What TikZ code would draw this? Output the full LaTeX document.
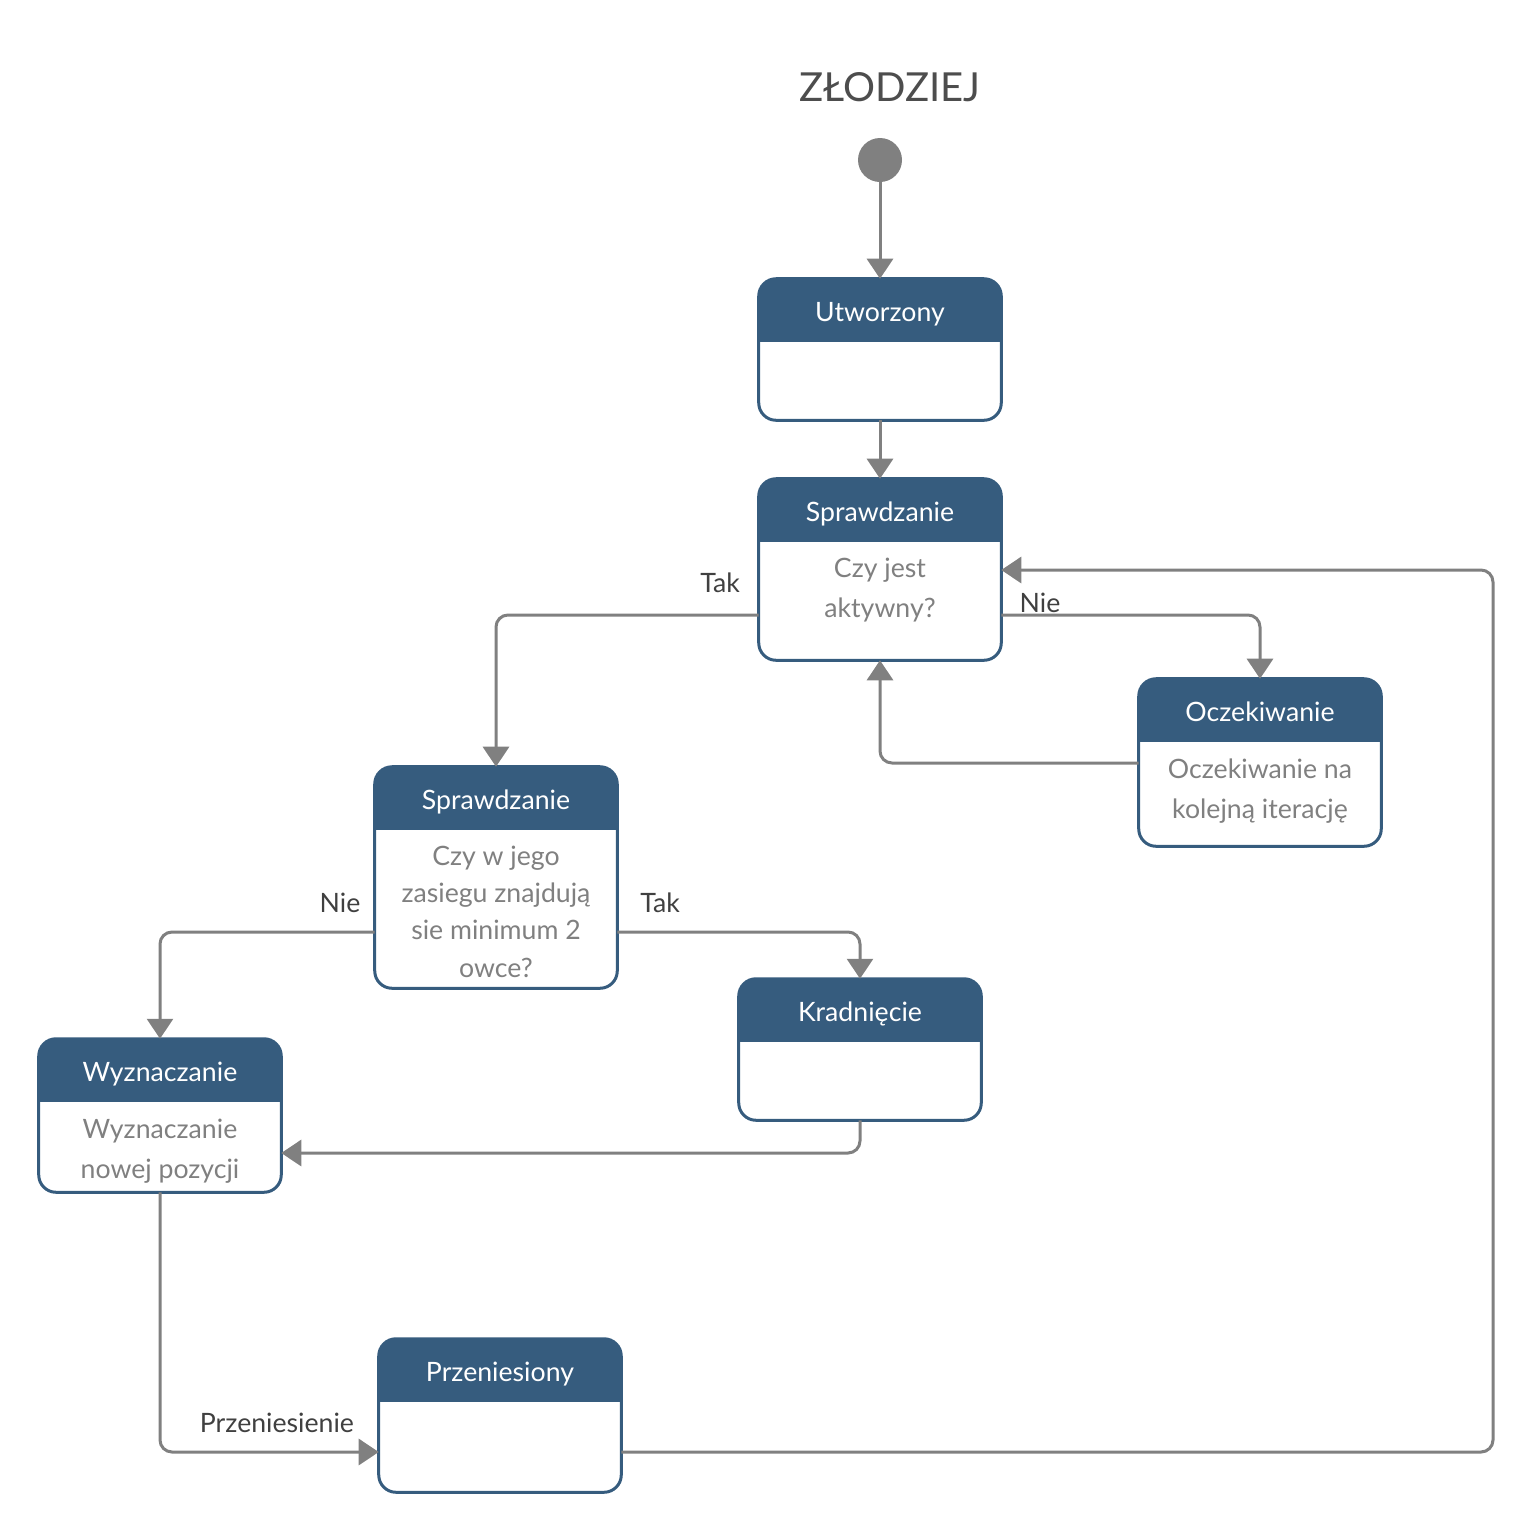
\documentclass[tikz,border=0pt]{standalone}
\usepackage{fontspec}
\setmainfont{Lato}
\usetikzlibrary{arrows.meta,fit,calc}
\definecolor{hdr}{RGB}{54,92,126}
\definecolor{conn}{RGB}{128,128,128}
\definecolor{lbl}{RGB}{64,64,64}
\definecolor{bodytxt}{RGB}{128,128,128}
\definecolor{ttlc}{RGB}{77,77,77}
\tikzset{
 wire/.style={draw=conn, line width=2.25pt, rounded corners=9pt, -{Triangle[width=19.5pt,length=15pt]}},
 hdrtext/.style={text=white, font=\fontsize{20}{24}\selectfont, anchor=base, inner sep=0pt},
 bodytext/.style={text=bodytxt, align=center, anchor=base, inner sep=0pt},
 lbltext/.style={text=lbl, font=\fontsize{20}{24}\selectfont, anchor=base, inner sep=0pt},
}
\newcommand\stbox[7]{%
 \node[fit={(#2,#3) (#4,#5)}, inner sep=0pt] (#1) {};
 \begin{scope}
 \clip[rounded corners=13pt] (#1.north west) rectangle (#1.south east);
 \fill[hdr] (#1.north west) rectangle (#1.east |- 0,#6);
 \end{scope}
 \draw[hdr, line width=2.25pt, rounded corners=13pt] (#1.north west) rectangle (#1.south east);
 \node[hdrtext] (#1-t) at ($(#1.north)!0.5!(#1.north |- 0,#6) + (0,11.5)$) {#7};
}
\begin{document}
\begin{tikzpicture}[x=0.75pt, y=-0.75pt]
\useasboundingbox (0,0) rectangle (1534,1532);
\node[text=ttlc, font=\fontsize{30}{32}\selectfont, anchor=base, inner sep=0pt] (title) at (890,101) {ZŁODZIEJ};
\node[circle, fill=conn, minimum size=33pt, inner sep=0pt] (init) at (880,160) {};
\stbox{u}{759}{279}{1001}{420}{342}{Utworzony}
\stbox{s1}{759}{479}{1001}{660}{542}{Sprawdzanie}
\stbox{oc}{1139}{679}{1381}{846}{742}{Oczekiwanie}
\stbox{s2}{375}{767}{617}{988}{830}{Sprawdzanie}
\stbox{kr}{739}{979}{981}{1120}{1042}{Kradnięcie}
\stbox{wy}{39}{1039}{281}{1192}{1102}{Wyznaczanie}
\stbox{pr}{379}{1339}{621}{1492}{1402}{Przeniesiony}
\node[bodytext, font=\fontsize{20}{30}\selectfont] (s1-b) at (880,617) {Czy jest\\aktywny?};
\node[bodytext, font=\fontsize{20}{30}\selectfont] (oc-b) at (1260,818) {Oczekiwanie na\\kolejną iterację};
\node[bodytext, font=\fontsize{20}{28}\selectfont] (s2-b) at (496,977) {Czy w jego\\zasiegu znajdują\\sie minimum 2\\owce?};
\node[bodytext, font=\fontsize{20}{30}\selectfont] (wy-b) at (160,1178) {Wyznaczanie\\nowej pozycji};
\draw[wire] (init) -- (u.north);
\draw[wire] (u.south) -- (s1.north);
\draw[wire] (s1.west |- 0,615) -| (s2.north);
\draw[wire] (s1.east |- 0,615) -| (oc.north);
\draw[wire] (oc.west |- 0,763) -| (s1.south);
\draw[wire] (s2.west |- 0,932) -| (wy.north);
\draw[wire] (s2.east |- 0,932) -| (kr.north);
\draw[wire] (kr.south) |- (wy.east |- 0,1153);
\draw[wire] (wy.south) |- (pr.west |- 0,1452);
\coordinate (ret) at (1493,570);
\draw[wire] (pr.east |- 0,1452) -| (ret) -- (s1.east |- 0,570);
\node[lbltext] (l1) at (720,592) {Tak};
\node[lbltext] (l2) at (1040,612) {Nie};
\node[lbltext] (l3) at (340,912) {Nie};
\node[lbltext] (l4) at (660,912) {Tak};
\node[lbltext] (l5) at (277,1432) {Przeniesienie};
\end{tikzpicture}
\end{document}
